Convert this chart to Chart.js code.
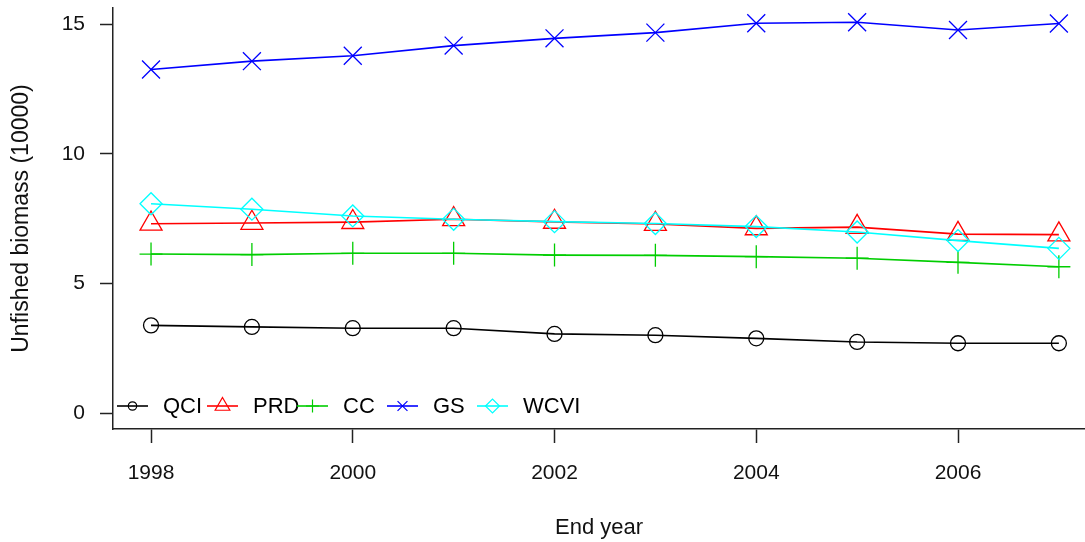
<!DOCTYPE html>
<html>
<head>
<meta charset="utf-8">
<title>Unfished biomass by end year</title>
<script src="https://cdn.jsdelivr.net/npm/chart.js@4.4.1/dist/chart.umd.min.js"></script>
<style>
  html, body { margin: 0; padding: 0; background: #ffffff; }
  #wrap { width: 1085px; height: 542px; }
</style>
</head>
<body>
<div id="wrap"><canvas id="chart" width="1085" height="542"></canvas></div>
<script>
// End years of each assessment run
const years = [1998, 1999, 2000, 2001, 2002, 2003, 2004, 2005, 2006, 2007];

// Unfished biomass (units of 10000) per stock area
const QCI  = [3.38, 3.32, 3.27, 3.27, 3.05, 3.00, 2.88, 2.74, 2.69, 2.69];
const PRD  = [7.30, 7.33, 7.36, 7.47, 7.37, 7.29, 7.12, 7.17, 6.90, 6.88];
const CC   = [6.13, 6.11, 6.16, 6.16, 6.09, 6.08, 6.03, 5.97, 5.81, 5.64];
const GS   = [13.25, 13.57, 13.78, 14.17, 14.45, 14.67, 15.03, 15.07, 14.77, 15.02];
const WCVI = [8.07, 7.86, 7.60, 7.47, 7.38, 7.31, 7.19, 6.98, 6.65, 6.35];

// Axis tick values
const xTicks = [1998, 2000, 2002, 2004, 2006];
const yTicks = [0, 5, 10, 15];

const FONT = '"Liberation Sans", Arial, sans-serif';

function series(label, values, color, style, radius, legendRadius, order) {
  return {
    label: label,
    data: values.map((v, i) => ({ x: years[i], y: v })),
    borderColor: color,
    backgroundColor: color,
    borderWidth: 1.6,
    pointStyle: style,
    pointRadius: radius,
    pointHoverRadius: radius,
    pointBorderColor: color,
    pointBackgroundColor: 'rgba(0,0,0,0)',
    pointBorderWidth: 1.3,
    legendRadius: legendRadius,
    tension: 0,
    fill: false,
    clip: false,
    order: order
  };
}

const datasets = [
  series('QCI',  QCI,  '#000000', 'circle',   7.5, 4.2, 4),
  series('PRD',  PRD,  '#ff0000', 'triangle', 12.7, 8.5, 3),
  series('CC',   CC,   '#00cd00', 'cross',    11.5, 6.5, 2),
  series('GS',   GS,   '#0000ff', 'crossRot', 12.7, 7, 1),
  series('WCVI', WCVI, '#00ffff', 'rectRot',  11, 7, 0)
];

// Horizontal legend row drawn inside the plot, line segment with symbol then label
const innerLegend = {
  id: 'innerLegend',
  afterDatasetsDraw(chart) {
    const ctx = chart.ctx;
    const area = chart.chartArea;
    const y = 406;
    const x0 = area.left + 4;
    const step = 90;
    const segLen = 31;
    ctx.save();
    ctx.font = '22px ' + FONT;
    ctx.textBaseline = 'middle';
    ctx.textAlign = 'left';
    chart.data.datasets.forEach((ds, i) => {
      const lx = x0 + i * step;
      ctx.strokeStyle = ds.borderColor;
      ctx.lineWidth = 1.6;
      ctx.beginPath();
      ctx.moveTo(lx, y);
      ctx.lineTo(lx + segLen, y);
      ctx.stroke();
      ctx.lineWidth = 1.2;
      ctx.fillStyle = 'rgba(0,0,0,0)';
      Chart.helpers.drawPoint(ctx, {
        pointStyle: ds.pointStyle,
        radius: ds.legendRadius,
        borderWidth: 1.2,
        rotation: 0
      }, lx + segLen / 2, y);
      ctx.fillStyle = '#000000';
      ctx.fillText(ds.label, lx + segLen + 15, y + 1);
    });
    ctx.restore();
  }
};

// Axis boxes get a fixed size and no extra label padding
function fixBox(scale, w, h) {
  if (w !== null) scale.width = w;
  if (h !== null) scale.height = h;
  scale.paddingLeft = 0;
  scale.paddingRight = 0;
  scale.paddingTop = 0;
  scale.paddingBottom = 0;
}

new Chart(document.getElementById('chart'), {
  type: 'line',
  data: { datasets: datasets },
  plugins: [innerLegend],
  options: {
    responsive: false,
    animation: false,
    devicePixelRatio: 1,
    layout: { autoPadding: false, padding: { top: 8, right: 0, bottom: 0, left: 0 } },
    plugins: {
      legend: { display: false },
      tooltip: { enabled: false }
    },
    scales: {
      x: {
        type: 'linear',
        position: 'bottom',
        min: 1997.623,
        max: 2007.259,
        afterBuildTicks(scale) { scale.ticks = xTicks.map(v => ({ value: v })); },
        afterFit(scale) { fixBox(scale, null, 113); },
        ticks: {
          color: '#111111',
          font: { family: FONT, size: 21 },
          padding: 18,
          maxRotation: 0,
          autoSkip: false,
          callback: v => String(v)
        },
        grid: {
          drawOnChartArea: false,
          drawTicks: true,
          tickLength: 14,
          tickWidth: 1.5,
          tickColor: '#222222'
        },
        border: { display: true, color: '#222222', width: 1.5 },
        title: {
          display: true,
          text: 'End year',
          color: '#111111',
          font: { family: FONT, size: 22 },
          padding: { top: 0, bottom: 1 }
        }
      },
      y: {
        type: 'linear',
        position: 'left',
        min: -0.617,
        max: 15.62,
        afterBuildTicks(scale) { scale.ticks = yTicks.map(v => ({ value: v })); },
        afterFit(scale) { fixBox(scale, 113, null); },
        ticks: {
          color: '#111111',
          font: { family: FONT, size: 21 },
          padding: 15,
          callback: v => String(v)
        },
        grid: {
          drawOnChartArea: false,
          drawTicks: true,
          tickLength: 13,
          tickWidth: 1.5,
          tickColor: '#222222'
        },
        border: { display: true, color: '#222222', width: 1.5 },
        title: {
          display: true,
          text: 'Unfished biomass (10000)',
          color: '#111111',
          font: { family: FONT, size: 23 },
          padding: { top: 8, bottom: 0 }
        }
      }
    }
  }
});
</script>
</body>
</html>
